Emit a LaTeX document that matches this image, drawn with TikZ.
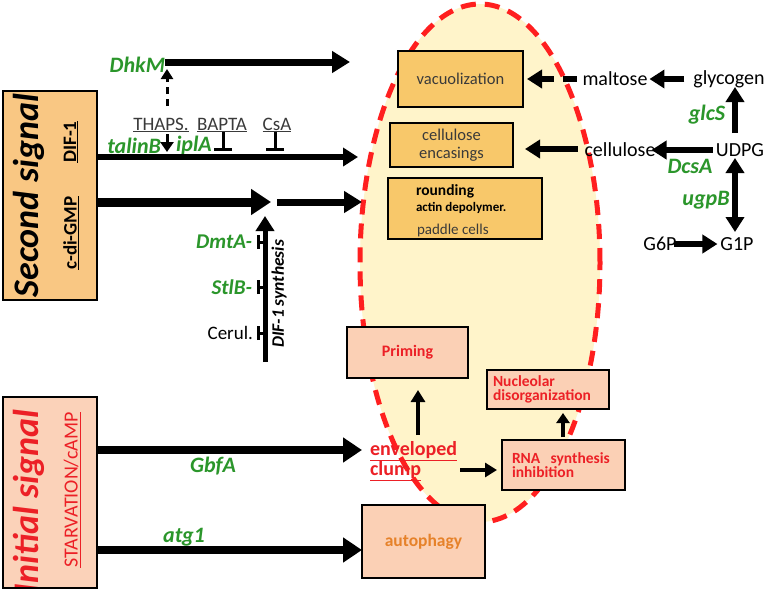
\documentclass[tikz,border=0pt]{standalone}
\usepackage{fontspec}
\setmainfont{Carlito}
\usetikzlibrary{arrows.meta,shapes.geometric}
\definecolor{sigorange}{HTML}{F9C783}
\definecolor{sigpeach}{HTML}{FBD2B9}
\definecolor{boxgold}{HTML}{F8C86A}
\definecolor{cream}{HTML}{FFF4CA}
\definecolor{dred}{HTML}{FF1F1F}
\definecolor{tred}{HTML}{EC2026}
\definecolor{genegreen}{HTML}{2B962B}
\definecolor{orng}{HTML}{E6822A}
\definecolor{pinkbox}{HTML}{FBD0B5}
\definecolor{dgray}{HTML}{3A3A3A}
\newcommand\myfs[1]{\fontsize{#1}{#1}\selectfont}
\begin{document}
\begin{tikzpicture}[x=1pt,y=-1pt,
 every node/.style={inner sep=0pt, outer sep=0pt},
 gene/.style={text=genegreen, font=\myfs{22}\bfseries\itshape},
 met/.style={font=\myfs{20}},
 drug/.style={text=dgray, font=\myfs{19}},
 gbox/.style={draw, line width=2.5pt, fill=boxgold},
 pbox/.style={draw, line width=2.5pt, fill=pinkbox, text=tred},
 sbox/.style={draw, line width=2.5pt},
 fat/.style={line width=8pt, -{Triangle[length=19pt,width=24pt]}},
 bold7/.style={line width=7pt, -{Triangle[length=18pt,width=21pt]}},
 mid/.style={line width=6pt, -{Triangle[length=15pt,width=18pt]}},
 thinar/.style={line width=4pt, -{Triangle[length=12pt,width=14pt]}},
 inh/.style={line width=3pt, -{Bar[width=18pt]}},
 inhs/.style={line width=3pt, -{Bar[width=14pt]}},
]
\useasboundingbox (0,0) rectangle (772,590);
\fill[white] (0,0) rectangle (772,590);

% central ellipse
\node[ellipse, draw=dred, fill=cream, line width=5pt, dash pattern=on 15pt off 9pt,
      minimum width=240pt, minimum height=518pt] (blob) at (480,263) {};

% left signal boxes
\node[sbox, fill=sigorange, minimum width=94pt, minimum height=209pt] (sec) at (50,195.5) {};
\begin{scope}
 \clip (4.5,92.5) rectangle (95.5,298.5);
 \node[rotate=90, anchor=base west, font=\myfs{36}\bfseries\itshape] (sectxt) at (38,297) {Second signal};
\end{scope}
\node[rotate=90, font=\myfs{19}\bfseries] (dif) at (71,142) {\underline{DIF-1}};
\node[rotate=90, font=\myfs{19}\bfseries] (cdg) at (71,233) {\underline{c-di-GMP}};

\node[sbox, fill=sigpeach, minimum width=94pt, minimum height=191pt] (ini) at (50,492.5) {};
\begin{scope}
 \clip (4.5,398.5) rectangle (95.5,586.5);
 \node[rotate=90, anchor=base west, text=tred, font=\myfs{36}\bfseries\itshape] (initxt) at (38,593) {Initial signal};
\end{scope}
\node[rotate=90, text=tred, font=\myfs{20}] (starv) at (72,490) {\underline{STARVATION/cAMP}};

% top-left: DhkM, drugs
\node[gene, anchor=east] (dhkm) at (165,65) {DhkM};
\coordinate (dhkmEnd) at (350,62);
\draw[bold7] (dhkm.east |- dhkmEnd) -- (dhkmEnd);

\node[drug] (thaps) at (161,125) {\underline{THAPS.}};
\node[drug] (bapta) at (222,125) {\underline{BAPTA}};
\node[drug] (csa) at (277,125) {\underline{CsA}};
\node[gene, anchor=east] (talin) at (161,146) {talinB};
\node[gene, anchor=west] (ipla) at (176,146) {iplA};

\coordinate (difEnd) at (358,157);
\draw[mid] (sec.east |- difEnd) -- (difEnd);

\coordinate (thU0) at (167,106);
\coordinate (thU) at (167,69);
\draw[line width=3pt, dash pattern=on 7pt off 5pt, -{Triangle[length=10pt,width=12pt]}] (thU0) -- (thU);
\coordinate (thD0) at (167,134);
\coordinate (thD) at (167,152);
\draw[line width=3pt, -{Triangle[length=10pt,width=13pt]}] (thD0) -- (thD);

\coordinate (baptaBar) at (223,151);
\draw[inh] (baptaBar |- bapta.south) -- (baptaBar);
\coordinate (csaBar) at (275,151);
\draw[inh] (csaBar |- csa.south) -- (csaBar);

% c-di-GMP
\coordinate (cdgTip) at (271,202);
\draw[line width=9pt, -{Triangle[length=20pt,width=25pt]}] (sec.east |- cdgTip) -- (cdgTip);
\coordinate (cvA) at (277,202);
\coordinate (cvB) at (362,202);
\draw[bold7] (cvA) -- (cvB);

% DIF-1 synthesis
\coordinate (synB) at (265,362);
\coordinate (synT) at (265,216);
\draw[line width=5pt, -{Triangle[length=15pt,width=18pt]}] (synB) -- (synT);
\node[rotate=90, font=\myfs{17.5}\bfseries\itshape] (syntxt) at (279,294) {DIF-1 synthesis};

\node[gene, font=\myfs{21}\bfseries\itshape, anchor=east] (dmta) at (252,242) {DmtA-};
\node[gene, font=\myfs{21}\bfseries\itshape, anchor=east] (stlb) at (252,287) {StlB-};
\node[font=\myfs{19}, anchor=east] (cerul) at (253,333) {Cerul.};
\draw[inhs] (synB |- dmta.east) -- ([xshift=5pt]dmta.east);
\draw[inhs] (synB |- stlb.east) -- ([xshift=5pt]stlb.east);
\draw[inhs] (synB |- cerul.east) -- ([xshift=4pt]cerul.east);

% boxes in the blob
\node[gbox, minimum width=125pt, minimum height=56pt, font=\myfs{16.5}, text=dgray] (vac) at (460.5,79) {vacuolization};
\node[gbox, minimum width=123pt, minimum height=44pt, font=\fontsize{16.5}{18}\selectfont, text=dgray, align=center] (cel) at (451.5,145) {cellulose\\encasings};
\node[gbox, minimum width=154pt, minimum height=61pt] (rnd) at (465,208.5) {};
\node[anchor=base west, font=\myfs{15.5}\bfseries] (rnd1) at (416,195) {rounding};
\node[anchor=base west, font=\myfs{13}\bfseries] (rnd2) at (416,211.5) {actin depolymer.};
\node[anchor=base west, font=\myfs{15}, text=dgray] (rnd3) at (417,234) {paddle cells};

% right metabolites
\node[met] (malt) at (615,79) {maltose};
\node[met] (glyc) at (729,79) {glycogen};
\node[met] (cell) at (620,150) {cellulose};
\node[met] (udpg) at (740,150) {UDPG};
\node[met] (g6p) at (660,244) {G6P};
\node[met] (g1p) at (737,244) {G1P};
\node[gene] (glcs) at (707,115) {glcS};
\node[gene] (dcsa) at (690,166) {DcsA};
\node[gene] (ugpb) at (706,200) {ugpB};

\draw[mid, dash pattern=on 14pt off 9pt] ([xshift=-6pt]malt.west) -- ([xshift=4pt]vac.east);
\draw[mid] ([xshift=-9pt]glyc.west) -- ([xshift=2pt]malt.east);
\coordinate (celTip) at (525,149);
\draw[mid] ([xshift=-7pt]cell.west |- celTip) -- (celTip);
\draw[mid] ([xshift=-3pt]udpg.west) -- ([xshift=-4pt]cell.east);
\coordinate (glcA) at (735,133);
\coordinate (glcB) at (735,87);
\draw[mid] (glcA) -- (glcB);
\coordinate (ugA) at (735,158);
\coordinate (ugB) at (735,232);
\draw[line width=6pt, {Triangle[length=15pt,width=18pt]}-{Triangle[length=15pt,width=18pt]}] (ugA) -- (ugB);
\draw[mid] ([xshift=-3pt]g6p.east) -- ([xshift=-3pt]g1p.west);

% lower part
\node[pbox, minimum width=121pt, minimum height=51pt, font=\myfs{16}\bfseries] (prim) at (407.5,352.5) {Priming};
\node[pbox, minimum width=122pt, minimum height=39pt, font=\fontsize{15.5}{14}\selectfont\bfseries, align=left, text width=110pt] (nuc) at (548,389.5) {Nucleolar\\disorganization};
\node[pbox, minimum width=123pt, minimum height=50pt, font=\fontsize{15.5}{14}\selectfont\bfseries, align=left, text width=103pt] (rna) at (563.5,465) {RNA\ \ synthesis\\inhibition};
\node[pbox, minimum width=123pt, minimum height=73pt, font=\myfs{17.5}\bfseries, text=orng] (auto) at (423.5,541.5) {autophagy};

\node[anchor=west, text=tred, font=\fontsize{20}{20}\selectfont\bfseries, align=left] (env) at (370,461) {\underline{enveloped}\\\underline{clump}};

\coordinate (envTop) at (418,435);
\coordinate (primTip) at (418,390);
\draw[thinar] (envTop) -- (primTip);
\coordinate (envR) at (460,470);
\draw[thinar] (envR) -- ([xshift=-5pt]rna.west |- envR);
\coordinate (rnaUp) at (563,437);
\coordinate (nucTip) at (563,413);
\draw[line width=4pt, -{Triangle[length=10pt,width=13pt]}] (rnaUp) -- (nucTip);

\coordinate (gbfTip) at (362,450);
\draw[fat] (ini.east |- gbfTip) -- (gbfTip);
\coordinate (atgY) at (300,550);
\draw[fat] (ini.east |- atgY) -- (auto.west |- atgY);
\node[gene] (gbfa) at (213,466) {GbfA};
\node[gene] (atg) at (184,537) {atg1};
\end{tikzpicture}
\end{document}
